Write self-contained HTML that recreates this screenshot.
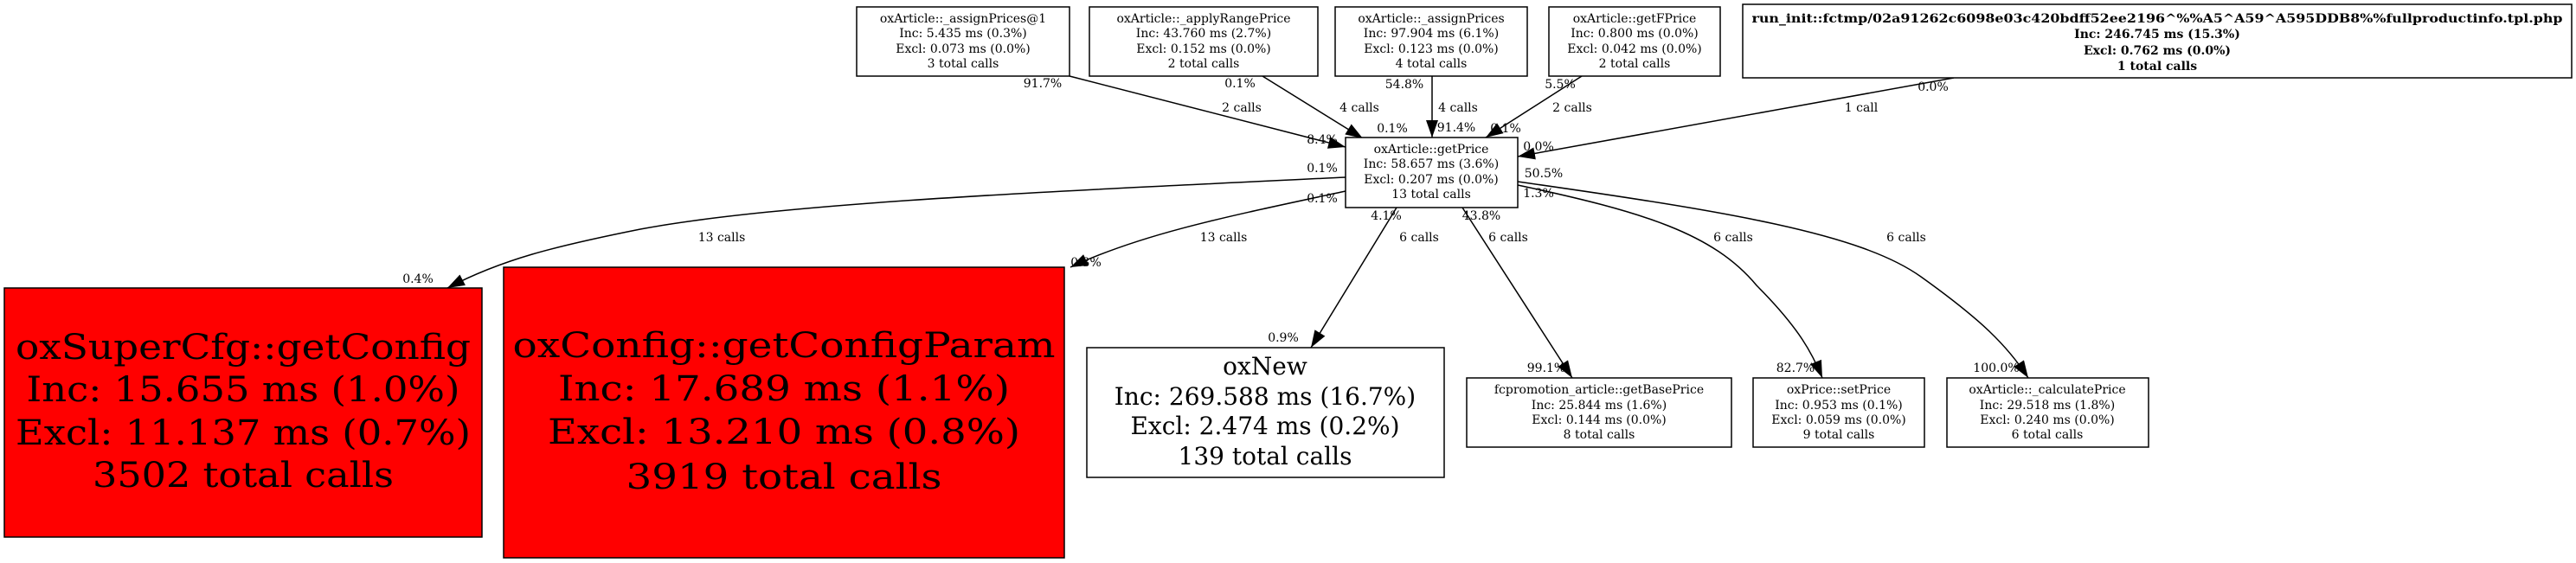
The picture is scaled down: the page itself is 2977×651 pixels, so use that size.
<!DOCTYPE html>
<html><head><meta charset="utf-8"><style>html,body{margin:0;padding:0;background:#fff}svg{display:block}</style></head><body>
<svg width="2977" height="651" viewBox="0 0 2977 651" xmlns="http://www.w3.org/2000/svg" font-family="DejaVu Serif, serif">
<defs>
<marker id="b" markerWidth="20" markerHeight="14" refX="20" refY="7" orient="auto" markerUnits="userSpaceOnUse" viewBox="0 0 20 14"><path d="M0,0L20,7L0,14z" fill="#000"/></marker></defs>
<g fill="none" stroke="#000" stroke-width="1.5" marker-end="url(#b)">
<path d="M1236,88 L1555,170"/>
<path d="M1459,88 L1575,160"/>
<path d="M1655,88 L1655,159"/>
<path d="M1828,88 L1717,159"/>
<path d="M2258,90 L1754,181"/>
<path d="M1555,205 C1200,222 900,235 740,265 C640,285 580,300 517,333"/>
<path d="M1555,221 C1420,250 1320,270 1237,309"/>
<path d="M1614,240 L1515,402"/>
<path d="M1690,240 L1817,437"/>
<path d="M1754,214 C1900,245 1980,270 2030,330 C2080,380 2095,410 2106,437"/>
<path d="M1754,210 C2000,245 2150,270 2220,320 C2290,370 2320,400 2344,437"/>
</g>
<g fill="#fff" stroke="#000" stroke-width="1.5">
<rect x="990" y="8" width="246" height="80"/>
<rect x="1259" y="8" width="264" height="80"/>
<rect x="1543" y="8" width="222" height="80"/>
<rect x="1790" y="8" width="198" height="80"/>
<rect x="2014" y="5" width="958" height="85"/>
<rect x="1555" y="159" width="199" height="81"/>
<rect x="5" y="333" width="552" height="288" fill="#f00"/>
<rect x="582" y="309" width="648" height="336" fill="#f00"/>
<rect x="1256" y="402" width="413" height="150"/>
<rect x="1695" y="437" width="306" height="80"/>
<rect x="2026" y="437" width="198" height="80"/>
<rect x="2250" y="437" width="233" height="80"/>
</g>
<g font-size="14" text-anchor="middle">
<text x="1113" y="26">oxArticle::_assignPrices@1</text><text x="1113" y="43">Inc: 5.435 ms (0.3%)</text><text x="1113" y="61">Excl: 0.073 ms (0.0%)</text><text x="1113" y="78">3 total calls</text>
<text x="1391" y="26">oxArticle::_applyRangePrice</text><text x="1391" y="43">Inc: 43.760 ms (2.7%)</text><text x="1391" y="61">Excl: 0.152 ms (0.0%)</text><text x="1391" y="78">2 total calls</text>
<text x="1654" y="26">oxArticle::_assignPrices</text><text x="1654" y="43">Inc: 97.904 ms (6.1%)</text><text x="1654" y="61">Excl: 0.123 ms (0.0%)</text><text x="1654" y="78">4 total calls</text>
<text x="1889" y="26">oxArticle::getFPrice</text><text x="1889" y="43">Inc: 0.800 ms (0.0%)</text><text x="1889" y="61">Excl: 0.042 ms (0.0%)</text><text x="1889" y="78">2 total calls</text>
<g font-weight="bold"><text x="2493" y="26" textLength="937" lengthAdjust="spacingAndGlyphs">run_init::fctmp/02a91262c6098e03c420bdff52ee2196^%%A5^A59^A595DDB8%%fullproductinfo.tpl.php</text><text x="2493" y="44">Inc: 246.745 ms (15.3%)</text><text x="2493" y="63">Excl: 0.762 ms (0.0%)</text><text x="2493" y="81">1 total calls</text></g>
<text x="1654" y="177">oxArticle::getPrice</text><text x="1654" y="194">Inc: 58.657 ms (3.6%)</text><text x="1654" y="212">Excl: 0.207 ms (0.0%)</text><text x="1654" y="229">13 total calls</text>
<text x="1848" y="455">fcpromotion_article::getBasePrice</text><text x="1848" y="473">Inc: 25.844 ms (1.6%)</text><text x="1848" y="490">Excl: 0.144 ms (0.0%)</text><text x="1848" y="507">8 total calls</text>
<text x="2125" y="455">oxPrice::setPrice</text><text x="2125" y="473">Inc: 0.953 ms (0.1%)</text><text x="2125" y="490">Excl: 0.059 ms (0.0%)</text><text x="2125" y="507">9 total calls</text>
<text x="2366" y="455">oxArticle::_calculatePrice</text><text x="2366" y="473">Inc: 29.518 ms (1.8%)</text><text x="2366" y="490">Excl: 0.240 ms (0.0%)</text><text x="2366" y="507">6 total calls</text>
</g>
<g font-size="40" text-anchor="middle">
<text x="281" y="415" textLength="526" lengthAdjust="spacingAndGlyphs">oxSuperCfg::getConfig</text><text x="281" y="464" textLength="501" lengthAdjust="spacingAndGlyphs">Inc: 15.655 ms (1.0%)</text><text x="281" y="514" textLength="526" lengthAdjust="spacingAndGlyphs">Excl: 11.137 ms (0.7%)</text><text x="281" y="563" textLength="348" lengthAdjust="spacingAndGlyphs">3502 total calls</text>
<text x="906" y="413" textLength="627" lengthAdjust="spacingAndGlyphs">oxConfig::getConfigParam</text><text x="906" y="463" textLength="522" lengthAdjust="spacingAndGlyphs">Inc: 17.689 ms (1.1%)</text><text x="906" y="513" textLength="546" lengthAdjust="spacingAndGlyphs">Excl: 13.210 ms (0.8%)</text><text x="906" y="565" textLength="365" lengthAdjust="spacingAndGlyphs">3919 total calls</text>
</g>
<g font-size="28" text-anchor="middle">
<text x="1462" y="433">oxNew</text><text x="1462" y="468">Inc: 269.588 ms (16.7%)</text><text x="1462" y="502">Excl: 2.474 ms (0.2%)</text><text x="1462" y="537">139 total calls</text>
</g>
<g font-size="14" text-anchor="middle">
<text x="1205" y="101">91.7%</text><text x="1435" y="129">2 calls</text><text x="1528" y="166">8.4%</text>
<text x="1433" y="101">0.1%</text><text x="1571" y="129">4 calls</text><text x="1609" y="153">0.1%</text>
<text x="1623" y="102">54.8%</text><text x="1685" y="129">4 calls</text><text x="1683" y="152">91.4%</text>
<text x="1803" y="102">5.5%</text><text x="1817" y="129">2 calls</text><text x="1740" y="153">0.1%</text>
<text x="2234" y="105">0.0%</text><text x="2151" y="129">1 call</text><text x="1778" y="174">0.0%</text>
<text x="1528" y="199">0.1%</text><text x="834" y="279">13 calls</text><text x="483" y="327">0.4%</text>
<text x="1528" y="234">0.1%</text><text x="1414" y="279">13 calls</text><text x="1255" y="308">0.3%</text>
<text x="1602" y="254">4.1%</text><text x="1640" y="279">6 calls</text><text x="1483" y="395">0.9%</text>
<text x="1712" y="254">43.8%</text><text x="1743" y="279">6 calls</text><text x="1787" y="430">99.1%</text>
<text x="1778" y="228">1.3%</text><text x="2003" y="279">6 calls</text><text x="2075" y="430">82.7%</text>
<text x="1784" y="205">50.5%</text><text x="2203" y="279">6 calls</text><text x="2307" y="430">100.0%</text>
</g>
</svg>
</body></html>
